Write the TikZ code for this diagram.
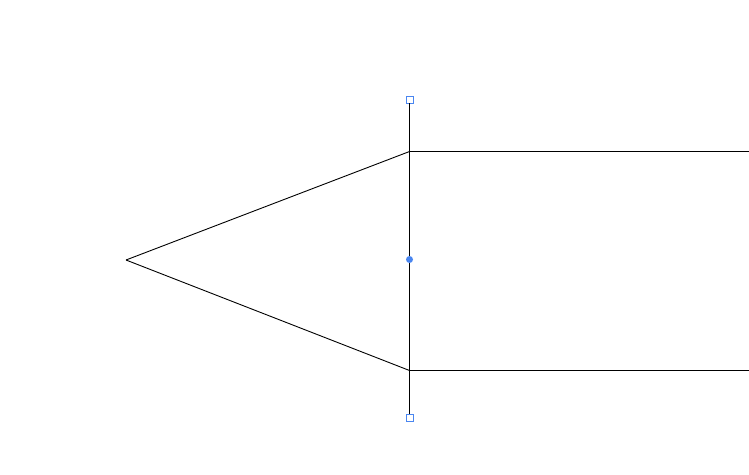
\documentclass[tikz,border=0pt]{standalone}
\definecolor{handleblue}{RGB}{74,134,240}
\tikzset{
  edge/.style={draw=black, line width=0.9pt},
  handle/.style={draw=handleblue, fill=white, line width=0.9pt, minimum size=7pt, inner sep=0pt, shape=rectangle},
  knob/.style={fill=handleblue, shape=circle, minimum size=7pt, inner sep=0pt}
}
\begin{document}
\begin{tikzpicture}[x=1pt,y=-1pt]
\useasboundingbox (0,0) rectangle (749,474);
\coordinate (tip) at (126,260);
\coordinate (top) at (409.5,151.5);
\coordinate (bot) at (409.5,370.5);
\coordinate (topR) at (749,151.5);
\coordinate (botR) at (749,370.5);
\node[handle] (h1) at (409.5,99.5) {};
\node[handle] (h2) at (409.5,417.5) {};
\draw[edge] (h1.south) -- (h2.north);
\draw[edge] (tip) -- (top) -- (topR);
\draw[edge] (tip) -- (bot) -- (botR);
\node[knob] (mid) at (409.5,259.5) {};
\end{tikzpicture}
\end{document}
